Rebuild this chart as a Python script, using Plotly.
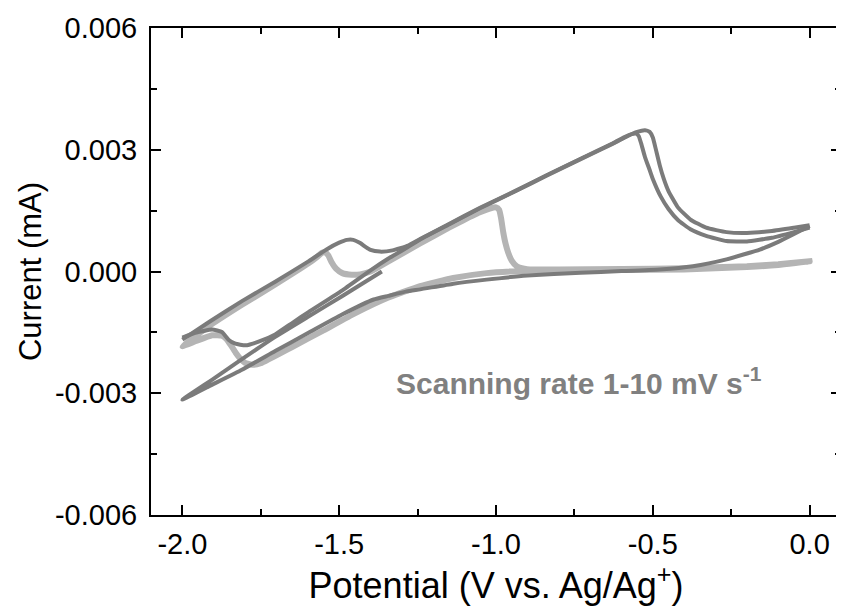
import plotly.graph_objects as go

# ---------------- data ----------------
# dark cycle A: cathodic return branch from 0 V to -2.0 V, then the straight segment back up to -1.36 V
v_dark_a = [0.0, -0.053, -0.10, -0.159, -0.265, -0.372, -0.478, -0.60, -0.73, -0.90, -1.03, -1.136,
            -1.242, -1.285, -1.343, -1.39, -1.491, -1.598, -1.704, -1.810, -1.916, -2.0,
            -1.90, -1.81, -1.704, -1.598, -1.491, -1.364]
i_dark_a = [0.00112, 0.00091, 0.00073, 0.00054, 0.00030, 0.00013, 0.00005, 0.00001, -0.00003, -0.00010,
            -0.00020, -0.00030, -0.00044, -0.00049, -0.00060, -0.00069, -0.00106, -0.00151, -0.00196,
            -0.00242, -0.00283, -0.00316,
            -0.00264, -0.00216, -0.00161, -0.00111, -0.00061, 0.0]

# dark cycle B: small wave near -1.85 V, long diagonal, outer anodic peak, upper tail to 0 V
v_dark_b = [-2.0, -1.959, -1.905, -1.874, -1.853, -1.831, -1.799, -1.757, -1.704, -1.65, -1.598, -1.491,
            -1.40, -1.343, -1.29, -1.242, -1.15, -1.051, -0.94, -0.839, -0.73, -0.627, -0.58, -0.55,
            -0.525, -0.51, -0.50, -0.49, -0.478, -0.465, -0.45, -0.42, -0.38, -0.33, -0.265, -0.2,
            -0.12, -0.05, 0.0]
i_dark_b = [-0.00163, -0.00151, -0.00143, -0.00149, -0.00168, -0.00178, -0.00182, -0.00173, -0.00155,
            -0.00127, -0.00100, -0.00047, 0.00003, 0.00032, 0.00056, 0.00079, 0.00116, 0.00156, 0.00197,
            0.00236, 0.00277, 0.00315, 0.00334, 0.00344, 0.00348, 0.00344, 0.00330, 0.00300, 0.00262,
            0.00228, 0.00198, 0.00158, 0.00128, 0.00108, 0.00097, 0.00095, 0.00100, 0.00108, 0.00114]

# dark cycle C: upper envelope with wave near -1.45 V, inner anodic peak, lower tail to 0 V
v_dark_c = [-2.0, -1.91, -1.81, -1.704, -1.598, -1.539, -1.50, -1.475, -1.455, -1.433, -1.415, -1.40,
            -1.37, -1.33, -1.28, -1.242, -1.15, -1.051, -0.94, -0.839, -0.73, -0.627, -0.59, -0.565,
            -0.553, -0.545, -0.537, -0.525, -0.51, -0.50, -0.475, -0.45, -0.42, -0.38, -0.33, -0.265,
            -0.2, -0.12, -0.05, 0.0]
i_dark_c = [-0.00168, -0.00122, -0.00073, -0.00025, 0.00025, 0.00055, 0.00071, 0.00078, 0.00078, 0.00070,
            0.00060, 0.00053, 0.00049, 0.00052, 0.00064, 0.00080, 0.00117, 0.00157, 0.00198, 0.00237,
            0.00278, 0.00316, 0.00331, 0.00339, 0.00340, 0.00334, 0.00315, 0.00282, 0.00250, 0.00228,
            0.00185, 0.00154, 0.00127, 0.00104, 0.00088, 0.00075, 0.00074, 0.00083, 0.00097, 0.00108]

# light cycle (slow scan): anodic sweep with peaks at -1.55 V and -1.0 V, then cathodic return
v_light = [-2.0, -1.91, -1.81, -1.704, -1.598, -1.57, -1.555, -1.545, -1.535, -1.525, -1.51, -1.49, -1.46,
           -1.433, -1.40, -1.343, -1.242, -1.15, -1.06, -1.03, -1.012, -1.0, -0.99, -0.984, -0.977, -0.97,
           -0.961, -0.95, -0.934, -0.91, -0.892, -0.8, -0.6, -0.4, -0.2, -0.1, 0.0,
           -0.1, -0.2, -0.4, -0.6, -0.8, -0.9, -1.03, -1.136, -1.242, -1.343, -1.45, -1.55, -1.65, -1.75,
           -1.778, -1.80, -1.815, -1.83, -1.845, -1.86, -1.874, -1.905, -1.959, -2.0]
i_light = [-0.00184, -0.00132, -0.00082, -0.00032, 0.00020, 0.00036, 0.00046, 0.00047, 0.00040, 0.00024,
           0.00007, -0.00004, -0.00008, -0.00007, 0.00000, 0.00025, 0.00069, 0.00108, 0.00143, 0.00152,
           0.00157, 0.00158, 0.00152, 0.00132, 0.00097, 0.00070, 0.00046, 0.00027, 0.00013, 0.00007,
           0.00005, 0.00005, 0.00006, 0.00008, 0.00013, 0.00018, 0.00025,
           0.00016, 0.00011, 0.00005, 0.00004, 0.00004, 0.00002, -0.00004, -0.00016, -0.00036, -0.00064,
           -0.00103, -0.00145, -0.00186, -0.00226, -0.00230, -0.00225, -0.00215, -0.00200, -0.00182,
           -0.00166, -0.00158, -0.00157, -0.00172, -0.00184]

x_ticks = [-2.0, -1.5, -1.0, -0.5, 0.0]
x_labels = ["-2.0", "-1.5", "-1.0", "-0.5", "0.0"]
x_minor = [-1.75, -1.25, -0.75, -0.25]
y_ticks = [-0.006, -0.003, 0.0, 0.003, 0.006]
y_labels = ["-0.006", "-0.003", "0.000", "0.003", "0.006"]
y_minor = [-0.0045, -0.0015, 0.0015, 0.0045]

note_text = "Scanning rate 1-10 mV s<sup>-1</sup>"
note_pos = (-0.736, -0.00269)

# ---------------- figure ----------------
DARK = "#7b7b7b"
LIGHT = "#b4b4b4"
FONT = "Arial, Liberation Sans, sans-serif"

fig = go.Figure()
fig.add_trace(go.Scatter(x=v_light, y=i_light, mode="lines",
                         line=dict(color=LIGHT, width=6, shape="spline", smoothing=0.4)))
for vx, iy in [(v_dark_a, i_dark_a), (v_dark_b, i_dark_b), (v_dark_c, i_dark_c)]:
    fig.add_trace(go.Scatter(x=vx, y=iy, mode="lines",
                             line=dict(color=DARK, width=4, shape="spline", smoothing=0.4)))

fig.add_annotation(x=note_pos[0], y=note_pos[1], text="<b>" + note_text + "</b>",
                   showarrow=False, font=dict(family=FONT, size=30, color="#808080"))

axis_common = dict(showline=True, linewidth=2, linecolor="black", mirror="ticks",
                   ticks="inside", ticklen=10, tickwidth=2, tickcolor="black",
                   showgrid=False, zeroline=False, automargin=False,
                   tickfont=dict(family=FONT, size=29, color="black"))

fig.update_xaxes(range=[-2.1, 0.1], tickvals=x_ticks, ticktext=x_labels,
                 minor=dict(tickvals=x_minor, ticks="inside", ticklen=6, tickwidth=2, tickcolor="black"),
                 title=dict(text="Potential (V vs. Ag/Ag<sup>+</sup>)",
                            font=dict(family=FONT, size=36, color="black"), standoff=1),
                 ticklabelstandoff=2, **axis_common)
fig.update_yaxes(range=[-0.006, 0.006], tickvals=y_ticks, ticktext=y_labels,
                 minor=dict(tickvals=y_minor, ticks="inside", ticklen=6, tickwidth=2, tickcolor="black"),
                 title=dict(text="Current (mA)", font=dict(family=FONT, size=31, color="black"), standoff=4),
                 ticklabelstandoff=6, **axis_common)

# the page body adds an 8 px offset, so margins are shifted accordingly
fig.update_layout(width=844, height=608, margin=dict(l=143, r=11, t=20, b=101),
                  plot_bgcolor="white", paper_bgcolor="white", showlegend=False,
                  font=dict(family=FONT, color="black"))

fig.write_html("out.html")
